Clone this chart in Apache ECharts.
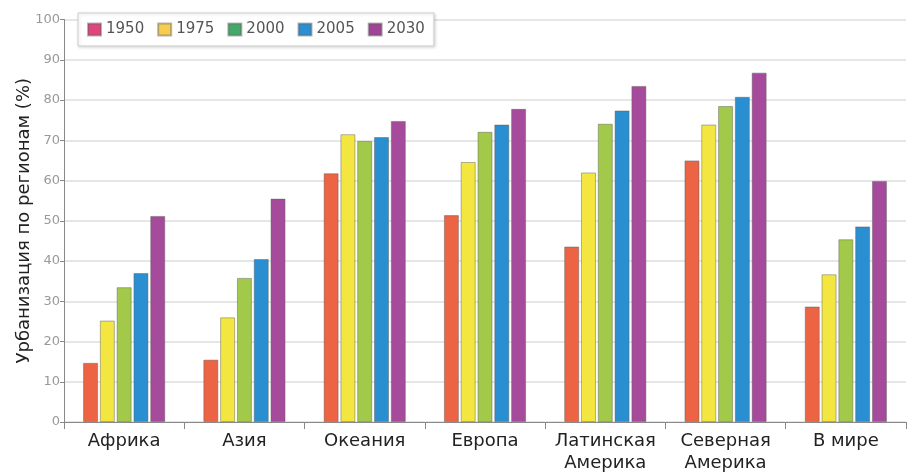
<!DOCTYPE html>
<html>
<head>
<meta charset="utf-8">
<script src="https://cdn.jsdelivr.net/npm/echarts@6/dist/echarts.min.js"></script>
<style>
html,body{margin:0;padding:0;background:#fff;}
#chart{width:908px;height:474px;}
</style>
</head>
<body>
<div id="chart"></div>
<script>
var categories = ['Африка', 'Азия', 'Океания', 'Европа', 'Латинская\nАмерика', 'Северная\nАмерика', 'В мире'];
var years = ['1950', '1975', '2000', '2005', '2030'];
var v1950 = [14.7, 15.5, 61.8, 51.4, 43.6, 65.0, 28.7];
var v1975 = [25.2, 26.0, 71.5, 64.6, 62.0, 73.9, 36.7];
var v2000 = [33.5, 35.8, 69.8, 72.1, 74.1, 78.5, 45.4];
var v2005 = [37.0, 40.5, 70.8, 73.9, 77.4, 80.8, 48.6];
var v2030 = [51.2, 55.5, 74.8, 77.8, 83.5, 86.8, 59.9];
var yTicks = [0, 10, 20, 30, 40, 50, 60, 70, 80, 90, 100];
var yTitle = 'Урбанизация по регионам (%)';

var seriesValues = [v1950, v1975, v2000, v2005, v2030];
var barColors = ['#ec6443', '#f4e640', '#a3c94a', '#2a8fd0', '#a64b9c'];
var legendColors = ['#e0457e', '#f6cd50', '#45a86a', '#2d8fd2', '#a04595'];
var font = 'DejaVu Sans';

var chart = echarts.init(document.getElementById('chart'));
chart.setOption({
  animation: false,
  backgroundColor: '#fff',
  grid: {left: 64, right: 2, top: 19.5, bottom: 51, containLabel: false},
  legend: {
    left: 78, top: 13,
    padding: [9, 9, 9, 9],
    backgroundColor: '#fff',
    borderColor: '#cfcfcf', borderWidth: 1,
    shadowColor: 'rgba(0,0,0,0.15)', shadowBlur: 3, shadowOffsetX: 1, shadowOffsetY: 1,
    itemWidth: 13, itemHeight: 12, itemGap: 13,
    icon: 'rect',
    textStyle: {fontFamily: font, fontSize: 15, color: '#555'},
    data: years.map(function (y, i) { return {name: y, itemStyle: {color: legendColors[i]}}; })
  },
  xAxis: {
    type: 'category',
    data: categories,
    boundaryGap: true,
    axisLine: {show: true, lineStyle: {color: '#888', width: 1}},
    axisTick: {show: true, length: 7, interval: 0, lineStyle: {color: '#888'}},
    axisLabel: {fontFamily: font, fontSize: 18, color: '#222', lineHeight: 22, margin: 8, interval: 0}
  },
  yAxis: {
    type: 'value',
    min: yTicks[0], max: yTicks[yTicks.length - 1], interval: 10,
    name: yTitle,
    nameLocation: 'middle',
    nameGap: 31,
    nameMoveOverlap: false,
    nameRotate: 90,
    nameTextStyle: {fontFamily: font, fontSize: 18, color: '#222'},
    axisLine: {show: true, lineStyle: {color: '#888', width: 1}},
    axisTick: {show: true, length: 4, lineStyle: {color: '#888'}},
    axisLabel: {fontFamily: font, fontSize: 13, color: '#999', margin: 4},
    splitLine: {show: true, lineStyle: {color: '#dedede', width: 1.5}}
  },
  series: years.map(function (y, i) {
    return {
      name: y,
      type: 'bar',
      data: seriesValues[i],
      barWidth: 15,
      barGap: '12%',
      itemStyle: {color: barColors[i], borderColor: 'rgba(90,90,90,0.45)', borderWidth: 1}
    };
  })
});
</script>
</body>
</html>
